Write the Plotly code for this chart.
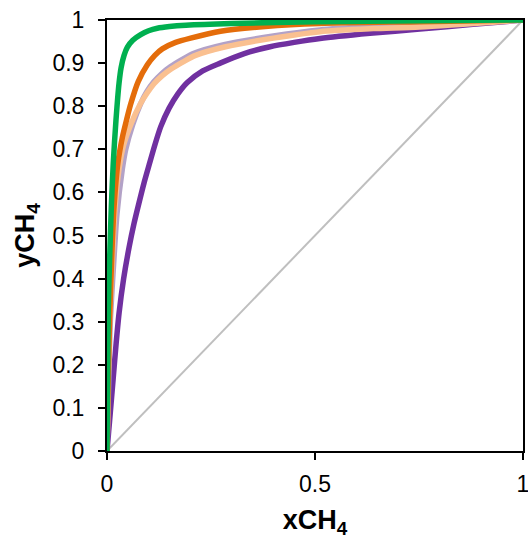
import plotly.graph_objects as go

# Data
green_x = [0, 0.001, 0.003, 0.007, 0.0104, 0.015, 0.0216, 0.029, 0.034, 0.041, 0.049, 0.062, 0.081, 0.1, 0.121, 0.15, 0.19, 0.3, 0.5, 0.75, 1]
green_y = [0, 0.12, 0.33, 0.466, 0.567, 0.667, 0.768, 0.854, 0.89, 0.918, 0.937, 0.953, 0.966, 0.975, 0.981, 0.985, 0.988, 0.992, 0.996, 0.998, 1]

orange_x = [0, 0.002, 0.006, 0.012, 0.017, 0.026, 0.037, 0.048, 0.057, 0.075, 0.097, 0.115, 0.133, 0.165, 0.201, 0.273, 0.38, 0.512, 0.752, 1]
orange_y = [0, 0.12, 0.3, 0.466, 0.567, 0.667, 0.728, 0.772, 0.805, 0.857, 0.896, 0.918, 0.933, 0.948, 0.958, 0.974, 0.985, 0.992, 0.996, 1]

lavender_x = [0, 0.003, 0.008, 0.018, 0.024, 0.037, 0.045, 0.062, 0.081, 0.096, 0.113, 0.132, 0.153, 0.18, 0.209, 0.281, 0.4, 0.512, 0.64, 0.752, 1]
lavender_y = [0, 0.12, 0.3, 0.466, 0.55, 0.655, 0.70, 0.758, 0.806, 0.834, 0.857, 0.876, 0.892, 0.908, 0.923, 0.943, 0.963, 0.977, 0.985, 0.990, 1]

peach_x = [0, 0.002, 0.006, 0.015, 0.019, 0.029, 0.04, 0.059, 0.08, 0.096, 0.113, 0.133, 0.155, 0.183, 0.213, 0.285, 0.4, 0.512, 0.64, 0.752, 1]
peach_y = [0, 0.12, 0.3, 0.49, 0.56, 0.655, 0.71, 0.762, 0.805, 0.83, 0.852, 0.871, 0.887, 0.903, 0.918, 0.938, 0.958, 0.973, 0.980, 0.984, 1]

purple_x = [0, 0.004, 0.008, 0.015, 0.022, 0.029, 0.04, 0.053, 0.065, 0.077, 0.089, 0.101, 0.115, 0.129, 0.149, 0.17, 0.193, 0.23, 0.272, 0.33, 0.392, 0.45, 0.512, 0.632, 0.752, 0.88, 1]
purple_y = [0, 0.045, 0.09, 0.17, 0.25, 0.32, 0.40, 0.472, 0.528, 0.576, 0.622, 0.663, 0.71, 0.752, 0.795, 0.828, 0.855, 0.882, 0.900, 0.922, 0.938, 0.948, 0.957, 0.969, 0.979, 0.99, 1]

diag_x = [0, 1]
diag_y = [0, 1]

tick_vals_x = [0, 0.5, 1]
tick_text_x = ["0", "0.5", "1"]
tick_vals_y = [0, 0.1, 0.2, 0.3, 0.4, 0.5, 0.6, 0.7, 0.8, 0.9, 1]
tick_text_y = ["0", "0.1", "0.2", "0.3", "0.4", "0.5", "0.6", "0.7", "0.8", "0.9", "1"]

fig = go.Figure()
fig.add_trace(go.Scatter(x=diag_x, y=diag_y, mode="lines",
                         line=dict(color="#BFBFBF", width=2), showlegend=False))
series = [
    (purple_x, purple_y, "#7030A0"),
    (lavender_x, lavender_y, "#B3A2C7"),
    (peach_x, peach_y, "#FAC090"),
    (orange_x, orange_y, "#E46C0A"),
    (green_x, green_y, "#00B050"),
]
for xs, ys, c in series:
    fig.add_trace(go.Scatter(x=xs, y=ys, mode="lines",
                             line=dict(color=c, width=5.5, shape="spline", smoothing=0.7),
                             showlegend=False))

axis_common = dict(
    showgrid=False, zeroline=False, showline=True, linecolor="black", linewidth=2,
    mirror=True, ticks="outside", ticklen=7, tickwidth=2, tickcolor="black",
    tickfont=dict(family="Liberation Sans, Arial", size=23, color="black"),
    range=[0, 1], automargin=False, ticklabeloverflow="allow",
)
fig.update_xaxes(**axis_common, tickvals=tick_vals_x, ticktext=tick_text_x,
                 ticklabelstandoff=4,
                 title=dict(text="<b>xCH<sub>4</sub></b>", standoff=15,
                            font=dict(family="Liberation Sans, Arial", size=27, color="black")))
fig.update_yaxes(**axis_common, tickvals=tick_vals_y, ticktext=tick_text_y,
                 ticklabelstandoff=9,
                 title=dict(text="<b>yCH<sub>4</sub></b>", standoff=10,
                            font=dict(family="Liberation Sans, Arial", size=27, color="black")))
fig.update_layout(
    width=528, height=539,
    margin=dict(l=107, r=5, t=20, b=88),
    plot_bgcolor="white", paper_bgcolor="white",
)
fig.write_html("out.html", config={"displayModeBar": False},
               post_script="document.body.style.margin='0px';document.body.style.overflow='hidden';")
